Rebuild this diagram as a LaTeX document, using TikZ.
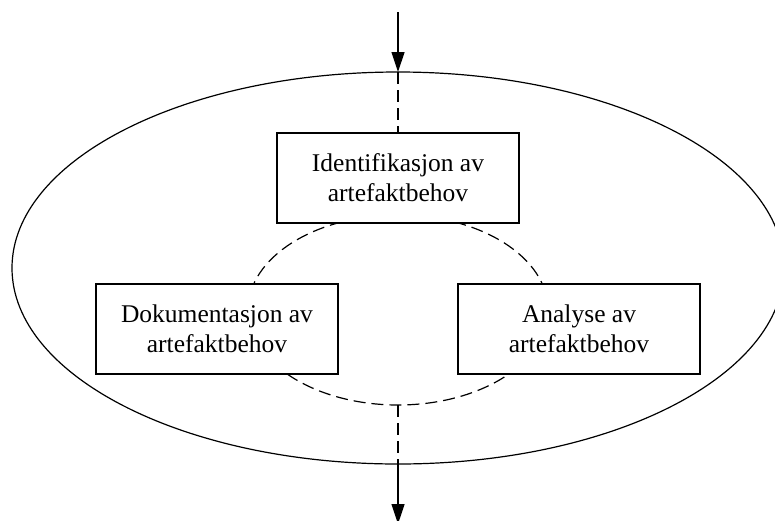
\documentclass[tikz,border=0pt]{standalone}
\usepackage{fontspec}
\setmainfont{Liberation Serif}
\usetikzlibrary{shapes.geometric,arrows.meta}
\begin{document}
\begin{tikzpicture}[x=1pt,y=-1pt,
    line width=1.2pt,
    stepbox/.style={draw,fill=white,rectangle,minimum width=242pt,minimum height=90pt,
      inner sep=0pt,outer sep=0pt,align=center,
      font=\fontsize{25.5}{30}\selectfont},
    ring/.style={draw,ellipse,inner sep=0pt,outer sep=0pt},
    dashline/.style={dash pattern=on 12pt off 6pt},
    flow/.style={-{Triangle[length=20pt,width=13pt]}}]
  \useasboundingbox (0,0) rectangle (775,520);
  % outer process boundary and the inner dashed cycle
  \node[ring,minimum width=772pt,minimum height=392pt] (outer) at (398,268) {};
  \node[ring,dashline,minimum width=300pt,minimum height=190pt] (cycle) at (398,310) {};
  % the three activities
  \node[stepbox] (ident) at (398,178) {Identifikasjon av\\artefaktbehov};
  \node[stepbox] (doc) at (217,329) {Dokumentasjon av\\artefaktbehov};
  \node[stepbox] (anal) at (579,329) {Analyse av\\artefaktbehov};
  % flow in and out
  \coordinate (in) at (398,12);
  \coordinate (out) at (398,524);
  \draw[flow] (in) -- (outer.north);
  \draw[dashline] (outer.north) -- (ident.north);
  \draw[dashline] (cycle.south) -- (outer.south);
  \draw[flow] (outer.south) -- (out);
\end{tikzpicture}
\end{document}
